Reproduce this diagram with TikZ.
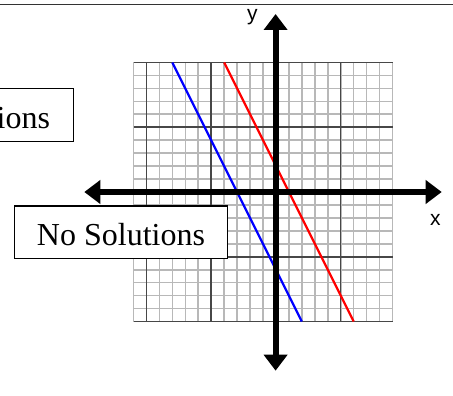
\documentclass[tikz,border=0pt]{standalone}
\usepackage{fontspec}
\setmainfont{Liberation Serif}
\newfontfamily\labelfont{Liberation Sans}
\usetikzlibrary{arrows.meta}
\begin{document}
\begin{tikzpicture}[x=1pt,y=-1pt,
  fine/.style={draw=black!28, line width=1.6pt},
  major/.style={draw=black!72, line width=1.5pt},
  axisline/.style={line width=6pt,
    {Triangle[length=16pt,width=23pt]}-{Triangle[length=16pt,width=23pt]}},
  graphline/.style={line width=2.2pt},
  labelbox/.style={draw=black, line width=1.3pt, fill=white,
    font=\fontsize{32}{38}\selectfont, text height=27.4pt, text depth=0pt,
    minimum height=52.6pt},
  axislabel/.style={font=\labelfont\fontsize{21}{25}\selectfont, inner sep=0pt, anchor=base}
]
\path[use as bounding box, clip] (0,0) rectangle (453,396);
% top rule
\coordinate (tl) at (0,4.5);
\coordinate (tr) at (453,4.5);
\draw[line width=1pt, black!80] (tl) -- (tr);
% fine grid
\foreach \i in {0,...,20} {
  \draw[fine] ({133.5+\i*12.95},62.5) -- ({133.5+\i*12.95},321.5);
  \draw[fine] (133.5,{62.5+\i*12.95}) -- (392.5,{62.5+\i*12.95});
}
% major grid
\foreach \i in {1,6,11,16} {
  \draw[major] ({133.5+\i*12.95},62.5) -- ({133.5+\i*12.95},321.5);
}
\foreach \j in {0,5,10,15,20} {
  \draw[major] (133.5,{62.5+\j*12.95}) -- (392.5,{62.5+\j*12.95});
}
% lines
\coordinate (b1) at (172.35,62.5);
\coordinate (b2) at (301.85,321.5);
\coordinate (r1) at (224.15,62.5);
\coordinate (r2) at (353.65,321.5);
\draw[graphline, blue] (b1) -- (b2);
\draw[graphline, red] (r1) -- (r2);
% axes
\coordinate (xl) at (84.3,192);
\coordinate (xr) at (441.7,192);
\coordinate (yt) at (275.6,14);
\coordinate (yb) at (275.6,370.7);
\draw[axisline] (xl) -- (xr);
\draw[axisline] (yt) -- (yb);
\node[axislabel] (ylab) at (252.3,20.2) {y};
\node[axislabel] (xlab) at (435.3,225.7) {x};
% boxes
\node[labelbox, minimum width=213.4pt] (nosol) at (121,232.2) {No Solutions};
\node[labelbox, anchor=east, text width=200pt, align=right, inner xsep=23.3pt] (other) at (74,115) {ions};
\end{tikzpicture}
\end{document}
